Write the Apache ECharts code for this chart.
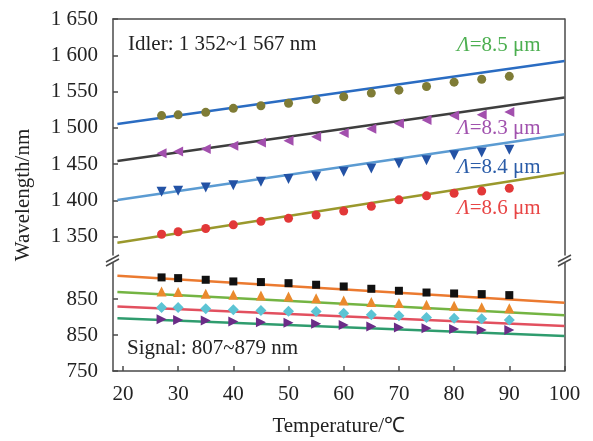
<!DOCTYPE html>
<html>
<head>
<meta charset="utf-8">
<script src="https://cdn.jsdelivr.net/npm/echarts@6.0.0/dist/echarts.min.js"></script>
<style>
html,body{margin:0;padding:0;background:#fff;}
#chart{width:593px;height:441px;}
</style>
</head>
<body>
<div id="chart"></div>
<script>
// ---- data ----
const temps = [27, 30, 35, 40, 45, 50, 55, 60, 65, 70, 75, 80, 85, 90];
const xTicks = [20, 30, 40, 50, 60, 70, 80, 90, 100];
const upperTicks = [1350, 1400, 1450, 1500, 1550, 1600, 1650];
const upperTickLabels = ['1 350', '1 400', '1 450', '1 500', '1 550', '1 600', '1 650'];
const lowerTicks = [750, 800, 850];
const lowerTickLabels = ['750', '850', '850'];

// idler measured points
const idler85 = [1517, 1518, 1521.5, 1527, 1530.5, 1534, 1539, 1543, 1548, 1552, 1557, 1563, 1567, 1571];
const idler83 = [1465, 1467.5, 1471, 1475.5, 1480, 1482.5, 1488, 1493, 1499, 1506, 1511, 1517, 1518, 1522];
const idler84 = [1412, 1413.5, 1418, 1421, 1426, 1429.5, 1433, 1439.5, 1444, 1451, 1455.5, 1462.5, 1466, 1470];
const idler86 = [1353.5, 1357, 1361.5, 1366.5, 1371.5, 1375.5, 1380, 1385.5, 1392, 1401, 1406.5, 1410, 1413, 1417];
// signal measured points
const sigSquare = [880, 879, 876.7, 874.4, 873.5, 872, 869.8, 867.4, 864.2, 861.4, 859, 857.7, 856.8, 855.4];
const sigUpTri = [860.5, 859.6, 857.2, 855.9, 854.9, 853.5, 851.2, 847.9, 845.7, 844.3, 842, 840.5, 838.7, 837.3];
const sigDiamond = [838.2, 838.2, 836.4, 835, 834, 833, 832.6, 830.3, 828, 826.6, 824.2, 823.4, 822.4, 821];
const sigRightTri = [822, 821, 820, 818.7, 817.8, 816.9, 815.5, 814, 811.7, 810.3, 809.5, 808.5, 807.1, 807];
// fitted lines (temperature endpoints and wavelengths)
const fitT = [19, 100];
const fitIdler85 = [1505.4, 1592.3];
const fitIdler83 = [1454.4, 1541.8];
const fitIdler84 = [1400.6, 1491.2];
const fitIdler86 = [1342, 1438.4];
const fitSigSquare = [882.3, 844.9];
const fitSigUpTri = [859.6, 827.4];
const fitSigDiamond = [839.6, 812.5];
const fitSigRightTri = [823.4, 798.5];

// ---- helpers ----
const FONT = '"Liberation Serif", "Times New Roman", serif';
const FS = 21;
const AX = '#4a4a4a';
const pts = (xs, ys) => xs.map((x, i) => [x, ys[i]]);

function fitSeries(ys, color, gi) {
  return {
    type: 'line', xAxisIndex: gi, yAxisIndex: gi * 2,
    data: pts(fitT, ys), showSymbol: false, symbol: 'none',
    lineStyle: { color: color, width: 2.5 }, z: 2, silent: true
  };
}
function markSeries(ys, color, symbol, size, rot, gi) {
  return {
    type: 'scatter', xAxisIndex: gi, yAxisIndex: gi * 2,
    data: pts(temps, ys), symbol: symbol, symbolSize: size, symbolRotate: rot,
    itemStyle: { color: color, opacity: 1 }, z: 3, silent: true
  };
}
function note(text, x, y, color, rich) {
  const st = { text: text, x: x, y: y, font: FS + 'px ' + FONT, fill: color,
    textAlign: 'left', textVerticalAlign: 'middle', align: 'left', verticalAlign: 'middle' };
  if (rich) st.rich = { i: { fontStyle: 'italic', fontFamily: FONT, fontSize: FS, fill: color, color: color } };
  return { type: 'text', z: 10, style: st };
}

const chart = echarts.init(document.getElementById('chart'), null, { renderer: 'canvas' });

const gridL = 113, gridR = 593 - 564.5;
const labelStyle = { fontFamily: FONT, fontSize: FS, color: '#222' };
const option = {
  animation: false,
  backgroundColor: '#fff',
  grid: [
    { left: gridL, right: gridR, top: 19, height: 236, outerBoundsMode: 'none', containLabel: false },
    { left: gridL, right: gridR, top: 263, height: 108, outerBoundsMode: 'none', containLabel: false }
  ],
  xAxis: [
    {
      type: 'value', gridIndex: 0, position: 'top', min: 18.2, max: 100,
      axisLine: { show: true, onZero: false, lineStyle: { color: AX, width: 1.5 } },
      axisTick: { show: false }, axisLabel: { show: false }, splitLine: { show: false }
    },
    {
      type: 'value', gridIndex: 1, position: 'bottom', min: 18.2, max: 100,
      axisLine: { show: true, onZero: false, lineStyle: { color: AX, width: 1.5 } },
      axisTick: { show: true, inside: true, length: 5, customValues: xTicks, lineStyle: { color: AX, width: 1.5 } },
      axisLabel: Object.assign({ show: true, customValues: xTicks, margin: 13 }, labelStyle),
      splitLine: { show: false },
      name: 'Temperature/℃', nameLocation: 'middle', nameGap: 45,
      nameTextStyle: labelStyle
    }
  ],
  yAxis: [
    {
      type: 'value', gridIndex: 0, position: 'left', min: 1325, max: 1650,
      axisLine: { show: true, onZero: false, lineStyle: { color: AX, width: 1.5 } },
      axisTick: { show: true, inside: true, length: 5, customValues: upperTicks, lineStyle: { color: AX, width: 1.5 } },
      axisLabel: Object.assign({
        show: true, customValues: upperTicks, margin: 15,
        formatter: v => upperTickLabels[upperTicks.indexOf(Math.round(v))] || ''
      }, labelStyle),
      splitLine: { show: false }
    },
    {
      type: 'value', gridIndex: 0, position: 'right', min: 1325, max: 1650,
      axisLine: { show: true, onZero: false, lineStyle: { color: AX, width: 1.5 } },
      axisTick: { show: false }, axisLabel: { show: false }, splitLine: { show: false }
    },
    {
      type: 'value', gridIndex: 1, position: 'left', min: 750, max: 900, interval: 50,
      axisLine: { show: true, onZero: false, lineStyle: { color: AX, width: 1.5 } },
      axisTick: { show: true, inside: true, length: 5, customValues: lowerTicks, lineStyle: { color: AX, width: 1.5 } },
      axisLabel: Object.assign({
        show: true, customValues: lowerTicks, margin: 15,
        formatter: v => lowerTickLabels[lowerTicks.indexOf(Math.round(v))] || ''
      }, labelStyle),
      splitLine: { show: false }
    },
    {
      type: 'value', gridIndex: 1, position: 'right', min: 750, max: 900,
      axisLine: { show: true, onZero: false, lineStyle: { color: AX, width: 1.5 } },
      axisTick: { show: false }, axisLabel: { show: false }, splitLine: { show: false }
    }
  ],
  series: [
    fitSeries(fitIdler85, '#2a6cc2', 0),
    fitSeries(fitIdler83, '#3e3e3e', 0),
    fitSeries(fitIdler84, '#5b9bd2', 0),
    fitSeries(fitIdler86, '#9a982c', 0),
    markSeries(idler85, '#7f7c36', 'circle', 9, 0, 0),
    markSeries(idler83, '#a24fad', 'triangle', 10, 90, 0),
    markSeries(idler84, '#2352a5', 'triangle', 10, 180, 0),
    markSeries(idler86, '#e23838', 'circle', 9, 0, 0),
    fitSeries(fitSigSquare, '#eb7a30', 1),
    fitSeries(fitSigUpTri, '#74b443', 1),
    fitSeries(fitSigDiamond, '#e2505f', 1),
    fitSeries(fitSigRightTri, '#2f9c6e', 1),
    markSeries(sigSquare, '#111111', 'rect', 8, 0, 1),
    markSeries(sigUpTri, '#ea8a2e', 'triangle', 10, 0, 1),
    markSeries(sigDiamond, '#5cc4d4', 'diamond', 11, 0, 1),
    markSeries(sigRightTri, '#6b2c87', 'triangle', 10, -90, 1)
  ],
  graphic: [
    { type: 'text', z: 10, style: { text: 'Wavelength/nm', x: 0, y: 0, font: FS + 'px ' + FONT, fill: '#222', textAlign: 'center', textVerticalAlign: 'middle', align: 'center', verticalAlign: 'middle' }, x: 23, y: 195, rotation: Math.PI / 2 },
    note('Idler: 1 352~1 567 nm', 128, 44, '#222', false),
    note('Signal: 807~879 nm', 127, 348, '#222', false),
    note('{i|Λ}=8.5 μm', 457, 45, '#4caf50', true),
    note('{i|Λ}=8.3 μm', 457, 128, '#a152ae', true),
    note('{i|Λ}=8.4 μm', 457, 167, '#2a5ca8', true),
    note('{i|Λ}=8.6 μm', 457, 208, '#e84545', true),
    // axis break marks
    { type: 'line', z: 10, shape: { x1: 106, y1: 262, x2: 119, y2: 255 }, style: { stroke: AX, lineWidth: 1.5 } },
    { type: 'line', z: 10, shape: { x1: 106, y1: 266, x2: 119, y2: 259 }, style: { stroke: AX, lineWidth: 1.5 } },
    { type: 'line', z: 10, shape: { x1: 558, y1: 262, x2: 571, y2: 255 }, style: { stroke: AX, lineWidth: 1.5 } },
    { type: 'line', z: 10, shape: { x1: 558, y1: 266, x2: 571, y2: 259 }, style: { stroke: AX, lineWidth: 1.5 } }
  ]
};
chart.setOption(option);
</script>
</body>
</html>
